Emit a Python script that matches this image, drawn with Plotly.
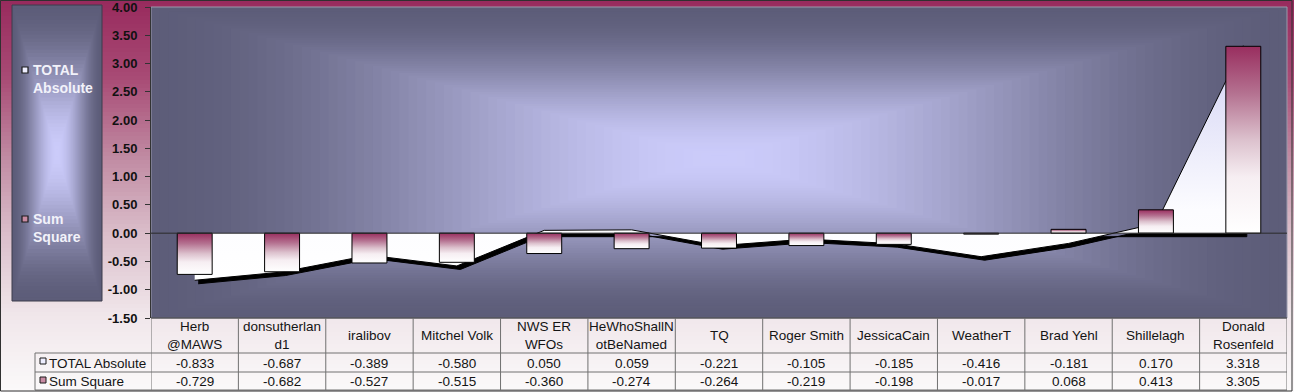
import plotly.graph_objects as go

# ---------------- data ----------------
categories = ["Herb<br>@MAWS", "donsutherlan<br>d1", "iralibov", "Mitchel Volk",
              "NWS ER<br>WFOs", "HeWhoShallN<br>otBeNamed", "TQ", "Roger Smith",
              "JessicaCain", "WeatherT", "Brad Yehl", "Shillelagh", "Donald<br>Rosenfeld"]
total_absolute = [-0.833, -0.687, -0.389, -0.580, 0.050, 0.059, -0.221,
                  -0.105, -0.185, -0.416, -0.181, 0.170, 3.318]
sum_square = [-0.729, -0.682, -0.527, -0.515, -0.360, -0.274, -0.264,
              -0.219, -0.198, -0.017, 0.068, 0.413, 3.305]
series_names = ["TOTAL Absolute", "Sum Square"]
y_ticks = [-1.5, -1.0, -0.5, 0.0, 0.5, 1.0, 1.5, 2.0, 2.5, 3.0, 3.5, 4.0]

# ---------------- geometry / style ----------------
WIN_W, WIN_H = 1294, 392
PL, PR, PT, PB = 151, 1287, 7, 318
FONT = "Liberation Sans, Arial, sans-serif"
idx = list(range(len(categories)))
BAR_HALF = 0.2


def fx(px):
    return (px - PL) / (PR - PL)


def fy(py):
    return (PB - py) / (PB - PT)


def hex2rgb(h):
    h = h.lstrip('#')
    return [int(h[i:i + 2], 16) for i in (0, 2, 4)]


def lerp_stops(stops, t):
    t = max(0.0, min(1.0, t))
    for (t0, c0), (t1, c1) in zip(stops[:-1], stops[1:]):
        if t <= t1:
            u = 0 if t1 == t0 else (t - t0) / (t1 - t0)
            a, b = hex2rgb(c0), hex2rgb(c1)
            return 'rgb(%d,%d,%d)' % tuple(round(a[k] + (b[k] - a[k]) * u) for k in range(3))
    return 'rgb(%d,%d,%d)' % tuple(hex2rgb(stops[-1][1]))


shapes = []

# page background: vertical maroon -> white
paper_stops = [(0, '#982a5d'), (0.2, '#a84b75'), (0.4, '#c08aa2'),
               (0.6, '#dbbfcb'), (0.8, '#f0e6ea'), (1, '#fbf9fa')]
NS = 98
for k in range(NS):
    y0 = k * WIN_H / NS
    y1 = (k + 1) * WIN_H / NS + 0.6
    shapes.append(dict(type='rect', xref='paper', yref='paper', layer='below',
                       x0=fx(0), x1=fx(WIN_W), y0=fy(y0), y1=fy(y1),
                       fillcolor=lerp_stops(paper_stops, (k + 0.5) / NS),
                       line=dict(width=0)))

# rectangular "from centre" gradients
glow_stops = [(0, '#cbcbfa'), (1, '#5d5d79')]


def rect_gradient(x0, x1, y0, y1, cx, cy, n):
    for k in range(n, 0, -1):
        t = k / n
        tm = (k - 0.5) / n
        f = 3 * tm ** 2 - 2 * tm ** 3
        shapes.append(dict(type='rect', xref='paper', yref='paper', layer='below',
                           x0=fx(cx - t * (cx - x0)), x1=fx(cx + t * (x1 - cx)),
                           y0=fy(cy - t * (cy - y0)), y1=fy(cy + t * (y1 - cy)),
                           fillcolor=lerp_stops(glow_stops, f), line=dict(width=0)))


rect_gradient(PL, PR, PT, PB, 719, 158, 64)
shapes.append(dict(type='rect', xref='paper', yref='paper', layer='below',
                   x0=fx(PL), x1=fx(PR), y0=fy(PT), y1=fy(PB),
                   line=dict(color='#9a9aac', width=1)))

# legend panel
rect_gradient(12, 102, 5, 301, 57, 153, 40)
shapes.append(dict(type='rect', xref='paper', yref='paper', layer='below',
                   x0=fx(12), x1=fx(102), y0=fy(5), y1=fy(301),
                   line=dict(color='#3c3c4c', width=1)))

# ---------------- traces ----------------
fig = go.Figure()

dx, dy = 0.04, 0.062
fig.add_trace(go.Scatter(
    x=[i + dx for i in idx] + [idx[-1] + dx, idx[0] + dx],
    y=[v - dy for v in total_absolute] + [-dy, -dy],
    fill='toself', fillcolor='black', mode='lines',
    line=dict(color='black', width=1), hoverinfo='skip', showlegend=False))

fig.add_trace(go.Scatter(
    x=idx, y=total_absolute, name=series_names[0], mode='lines', fill='tozeroy',
    fillgradient=dict(type='vertical',
                      colorscale=[[0, '#ffffff'], [0.3, '#fcfcff'], [1, '#d2d2f4']]),
    line=dict(color='black', width=1), showlegend=False))

bar_scale = [[0, '#ffffff'], [0.3, '#f6eef2'], [0.5, '#dcc1cd'],
             [0.75, '#b47190'], [1, '#992e5f']]
for i, v in zip(idx, sum_square):
    fig.add_trace(go.Scatter(
        x=[i - BAR_HALF, i - BAR_HALF, i + BAR_HALF, i + BAR_HALF, i - BAR_HALF],
        y=[0, v, v, 0, 0], fill='toself', mode='lines', name=series_names[1],
        fillgradient=dict(type='vertical', colorscale=bar_scale),
        line=dict(color='black', width=1), showlegend=False,
        hovertext=f"{v:.3f}", hoverinfo='text'))

# zero line
shapes.append(dict(type='line', xref='paper', yref='y', x0=0, x1=1, y0=0, y1=0,
                   line=dict(color='#2a2a2a', width=1), layer='above'))

# ---------------- data table ----------------
GRID = '#707070'
ROW1, ROW2, ROW3 = 353, 372, 390
TBL_L = 35
shapes.append(dict(type='line', xref='paper', yref='paper', x0=fx(PL), x1=fx(PR),
                   y0=fy(PB), y1=fy(PB), line=dict(color='#333', width=1)))
for k in range(len(categories) + 1):
    shapes.append(dict(type='line', xref='x', yref='paper', x0=k - 0.5, x1=k - 0.5,
                       y0=fy(PB), y1=fy(ROW3), line=dict(color=GRID, width=1)))
for yy in (ROW1, ROW2, ROW3):
    shapes.append(dict(type='line', xref='paper', yref='paper', x0=fx(TBL_L), x1=fx(PR),
                       y0=fy(yy), y1=fy(yy), line=dict(color=GRID, width=1)))
shapes.append(dict(type='line', xref='paper', yref='paper', x0=fx(TBL_L), x1=fx(TBL_L),
                   y0=fy(ROW1), y1=fy(ROW3), line=dict(color=GRID, width=1)))

# legend keys (table + side legend)
key_fill = ['#eeeeff', '#c98ba3']
for (kx, ky), c in zip([(40, 358), (40, 377)], key_fill):
    shapes.append(dict(type='rect', xref='paper', yref='paper', x0=fx(kx), x1=fx(kx + 6),
                       y0=fy(ky), y1=fy(ky + 6), fillcolor=c,
                       line=dict(color='#1a1a1a', width=1), layer='above'))
for (kx, ky), c in zip([(22, 67), (22, 216)], key_fill):
    shapes.append(dict(type='rect', xref='paper', yref='paper', x0=fx(kx), x1=fx(kx + 6),
                       y0=fy(ky), y1=fy(ky + 6), fillcolor=c,
                       line=dict(color='#1a1a1a', width=1.2), layer='above'))

# outer border
shapes.append(dict(type='rect', xref='paper', yref='paper', x0=fx(0.5), x1=fx(1292),
                   y0=fy(0.5), y1=fy(391), line=dict(color='#303030', width=1),
                   layer='above'))

annotations = []
tfont = dict(family=FONT, size=13.5, color='#141414')
for i, cat in zip(idx, categories):
    annotations.append(dict(x=i, y=fy((PB + ROW1) / 2), xref='x', yref='paper', text=cat,
                            showarrow=False, font=tfont, xanchor='center', yanchor='middle'))
for row_y, vals in zip([(ROW1 + ROW2) / 2, (ROW2 + ROW3) / 2], [total_absolute, sum_square]):
    for i, v in zip(idx, vals):
        annotations.append(dict(x=i, y=fy(row_y + 0.5), xref='x', yref='paper', text=f"{v:.3f}",
                                showarrow=False, font=tfont, xanchor='center', yanchor='middle'))
for row_y, name in zip([(ROW1 + ROW2) / 2, (ROW2 + ROW3) / 2], series_names):
    annotations.append(dict(x=fx(47), y=fy(row_y + 0.5), xref='paper', yref='paper', text=name,
                            showarrow=False, font=tfont, xanchor='left', yanchor='middle'))

# side legend text
lfont = dict(family=FONT, size=14, color='#f2f2fa', weight='bold')
for cy, name in zip([79, 228], series_names):
    annotations.append(dict(x=fx(31), y=fy(cy), xref='paper', yref='paper',
                            text=name.replace(' ', '<br>'), showarrow=False, font=lfont,
                            xanchor='left', yanchor='middle', align='left'))

fig.update_layout(
    width=WIN_W, height=WIN_H, autosize=False,
    margin=dict(l=PL, r=WIN_W - PR, t=PT, b=WIN_H - PB, pad=0, autoexpand=False),
    paper_bgcolor='#fbf9fa', plot_bgcolor='rgba(0,0,0,0)',
    showlegend=False,
    xaxis=dict(range=[-0.5, len(categories) - 0.5], showticklabels=False, showgrid=False,
               zeroline=False, showline=False, ticks='', automargin=False),
    yaxis=dict(range=[y_ticks[0], y_ticks[-1]], tickvals=y_ticks,
               ticktext=[f"{t:.2f}" for t in y_ticks], ticks='outside', ticklen=5,
               tickcolor='#333', showline=True, linecolor='#333', linewidth=1,
               showgrid=False, zeroline=False, ticklabelstandoff=5,
               ticklabeloverflow='allow', automargin=False,
               tickfont=dict(family=FONT, size=13, color='#111', weight='bold')),
    shapes=shapes, annotations=annotations,
)

fig.write_html("out.html")
